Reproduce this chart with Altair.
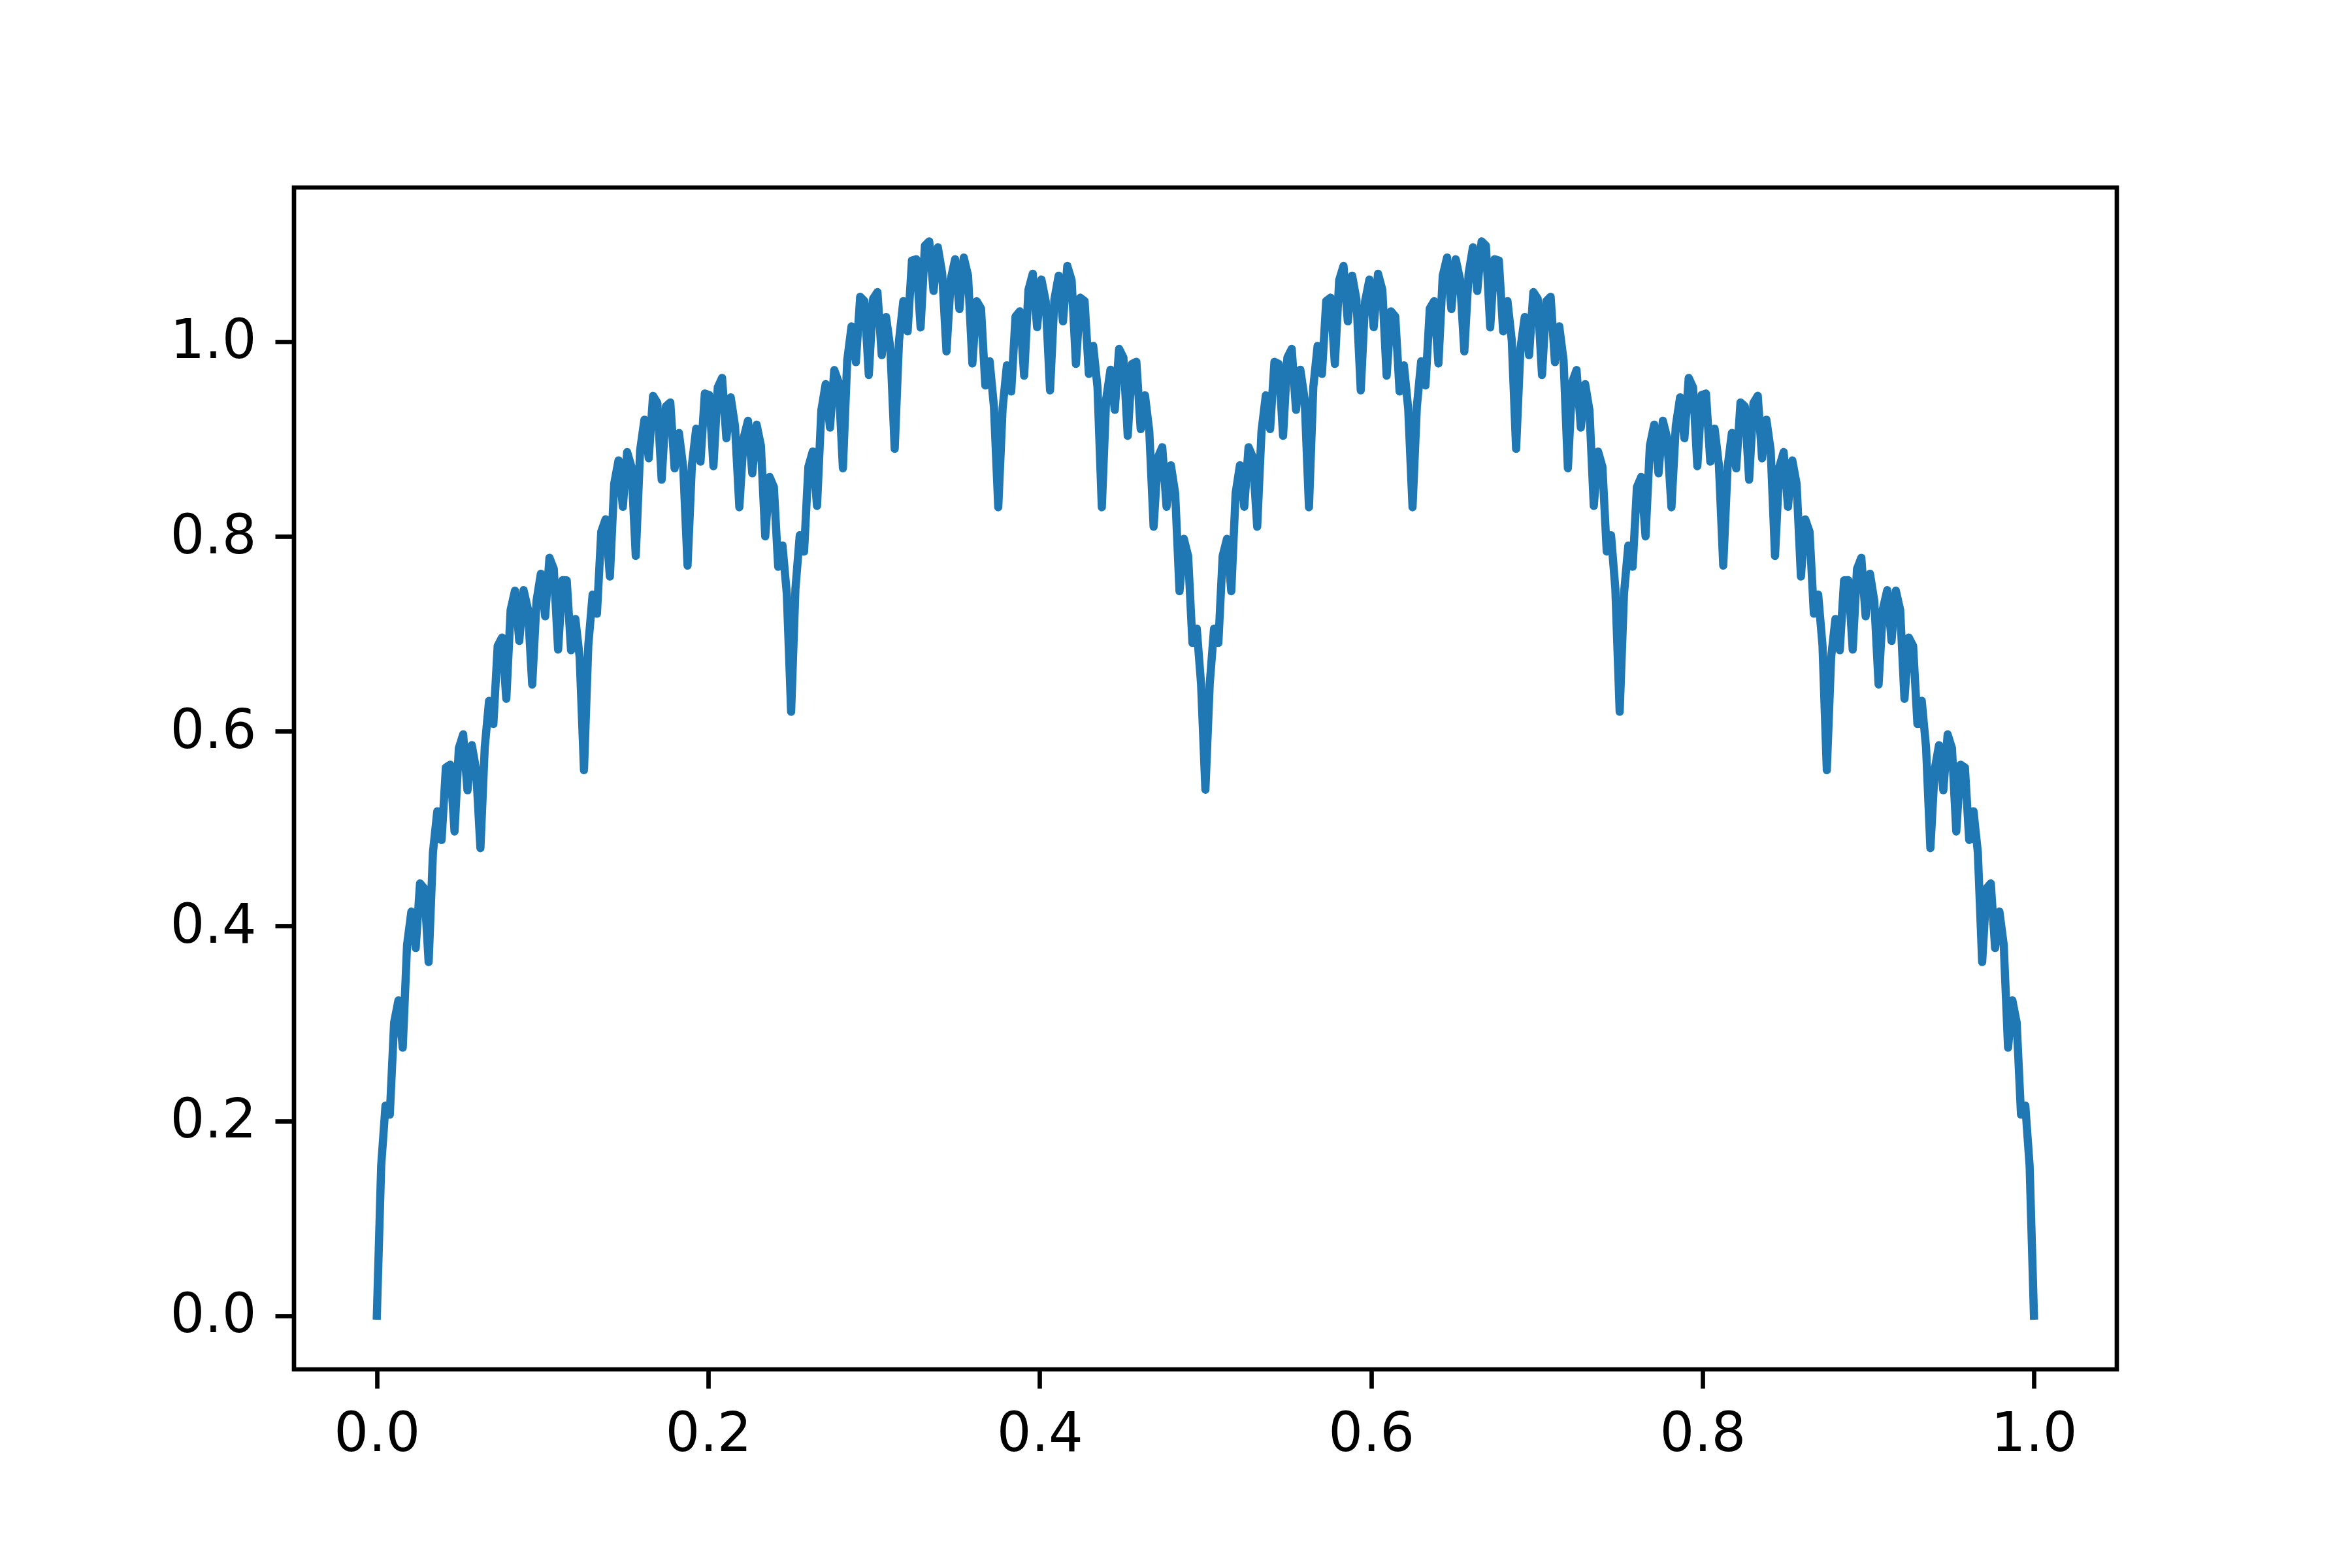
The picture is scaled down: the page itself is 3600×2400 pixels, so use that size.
import altair as alt
import pandas as pd

# sampled curve values, left to right (x runs 0..1 in equal steps)
y_values = [
    # left half, x = 0 .. 0.5
    0.0, 0.1536, 0.2157, 0.2064, 0.3008, 0.3237, 0.2751, 0.3807, 0.4148, 0.3774,
    0.4438, 0.4387, 0.363, 0.4757, 0.5178, 0.4884, 0.5628, 0.5657, 0.4971, 0.5827,
    0.5968, 0.5394, 0.5857, 0.5606, 0.48, 0.5833, 0.6312, 0.6075, 0.6876, 0.6962,
    0.6333, 0.7246, 0.7444, 0.6928, 0.7449, 0.7255, 0.648, 0.7339, 0.7617, 0.718,
    0.7781, 0.7667, 0.6838, 0.7551, 0.7549, 0.6832, 0.7153, 0.6759, 0.56, 0.6884,
    0.7403, 0.7207, 0.8049, 0.8176, 0.7588, 0.8542, 0.8781, 0.8305, 0.8867, 0.8714,
    0.78, 0.888, 0.9199, 0.8803, 0.9444, 0.9371, 0.8583, 0.9337, 0.9376, 0.87,
    0.9062, 0.8708, 0.77, 0.8731, 0.9107, 0.8769, 0.9468, 0.9452, 0.8721, 0.9532,
    0.9628, 0.9009, 0.9428, 0.9132, 0.83, 0.9012, 0.9188, 0.8649, 0.9148, 0.8932,
    0.8001, 0.8612, 0.8508, 0.7689, 0.7907, 0.7411, 0.62, 0.7463, 0.8012, 0.7845,
    0.8716, 0.8872, 0.8313, 0.9296, 0.9564, 0.9118, 0.9709, 0.9585, 0.87, 0.9809,
    1.0157, 0.979, 1.0461, 1.0417, 0.9658, 1.0441, 1.0509, 0.9862, 1.0253, 0.9929,
    0.89, 1.001, 1.0416, 1.0106, 1.0834, 1.0847, 1.0146, 1.0986, 1.103, 1.0521,
    1.0969, 1.0702, 0.99, 1.0641, 1.0846, 1.0336, 1.0864, 1.0678, 0.9776, 1.0416,
    1.0341, 0.9551, 0.9799, 0.9332, 0.83, 0.9311, 0.9757, 0.9489, 1.0258, 1.0312,
    0.9651, 1.0532, 1.0698, 1.0149, 1.0638, 1.0412, 0.95, 1.0432, 1.0678, 1.0209,
    1.0778, 1.0632, 0.9771, 1.0452, 1.0418, 0.9669, 0.9957, 0.9531, 0.83, 0.9408,
    0.9712, 0.93, 0.9926, 0.9837, 0.9033, 0.9771, 0.9794, 0.9103, 0.9449, 0.908,
    0.81, 0.8814, 0.8917, 0.8305, 0.8731, 0.8442, 0.7438, 0.7976, 0.7799, 0.6907,
    0.7053, 0.6484, 0.54,
    # right half, x = 0.5 .. 1
    0.6484, 0.7053,
    0.6907, 0.7799, 0.7976, 0.7438, 0.8442, 0.8731, 0.8305, 0.8917, 0.8814, 0.81,
    0.908, 0.9449, 0.9103, 0.9794, 0.9771, 0.9033, 0.9837, 0.9926, 0.93, 0.9712,
    0.9408, 0.83, 0.9531, 0.9957, 0.9669, 1.0418, 1.0452, 0.9771, 1.0632, 1.0778,
    1.0209, 1.0678, 1.0432, 0.95, 1.0412, 1.0638, 1.0149, 1.0698, 1.0532, 0.9651,
    1.0312, 1.0258, 0.9489, 0.9757, 0.9311, 0.83, 0.9332, 0.9799, 0.9551, 1.0341,
    1.0416, 0.9776, 1.0678, 1.0864, 1.0336, 1.0846, 1.0641, 0.99, 1.0702, 1.0969,
    1.0521, 1.103, 1.0986, 1.0146, 1.0847, 1.0834, 1.0106, 1.0416, 1.001, 0.89,
    0.9929, 1.0253, 0.9862, 1.0509, 1.0441, 0.9658, 1.0417, 1.0461, 0.979, 1.0157,
    0.9809, 0.87, 0.9585, 0.9709, 0.9118, 0.9564, 0.9296, 0.8313, 0.8872, 0.8716,
    0.7845, 0.8012, 0.7463, 0.62, 0.7411, 0.7907, 0.7689, 0.8508, 0.8612, 0.8001,
    0.8932, 0.9148, 0.8649, 0.9188, 0.9012, 0.83, 0.9132, 0.9428, 0.9009, 0.9628,
    0.9532, 0.8721, 0.9452, 0.9468, 0.8769, 0.9107, 0.8731, 0.77, 0.8708, 0.9062,
    0.87, 0.9376, 0.9337, 0.8583, 0.9371, 0.9444, 0.8803, 0.9199, 0.888, 0.78,
    0.8714, 0.8867, 0.8305, 0.8781, 0.8542, 0.7588, 0.8176, 0.8049, 0.7207, 0.7403,
    0.6884, 0.56, 0.6759, 0.7153, 0.6832, 0.7549, 0.7551, 0.6838, 0.7667, 0.7781,
    0.718, 0.7617, 0.7339, 0.648, 0.7255, 0.7449, 0.6928, 0.7444, 0.7246, 0.6333,
    0.6962, 0.6876, 0.6075, 0.6312, 0.5833, 0.48, 0.5606, 0.5857, 0.5394, 0.5968,
    0.5827, 0.4971, 0.5657, 0.5628, 0.4884, 0.5178, 0.4757, 0.363, 0.4387, 0.4438,
    0.3774, 0.4148, 0.3807, 0.2751, 0.3237, 0.3008, 0.2064, 0.2157, 0.1536, 0.0,
]
n_steps = len(y_values) - 1
x_values = [i / n_steps for i in range(len(y_values))]

x_ticks = [0.0, 0.2, 0.4, 0.6, 0.8, 1.0]
y_ticks = [0.0, 0.2, 0.4, 0.6, 0.8, 1.0]

df = pd.DataFrame({"x": x_values, "y": y_values})

FONT = "DejaVu Sans"
axis_common = dict(
    labelFont=FONT,
    labelFontSize=83,
    labelColor="black",
    tickSize=29,
    tickWidth=6.7,
    tickColor="black",
    domain=False,
    grid=False,
    labelPadding=29,
    format=".1f",
    title=None,
)

chart = (
    alt.Chart(df)
    .mark_line(color="#1f77b4", strokeWidth=12.5, strokeJoin="round", strokeCap="square")
    .encode(
        x=alt.X(
            "x:Q",
            scale=alt.Scale(domain=[-0.05, 1.05], nice=False, zero=False),
            axis=alt.Axis(values=x_ticks, labelBaseline="top", **axis_common),
        ),
        y=alt.Y(
            "y:Q",
            scale=alt.Scale(domain=[-0.0552, 1.1583], nice=False, zero=False),
            axis=alt.Axis(values=y_ticks, labelBaseline="middle", **axis_common),
        ),
    )
    .properties(
        width=2790,
        height=1809,
        autosize=alt.AutoSizeParams(type="none"),
        padding={"left": 442, "top": 279, "right": 352, "bottom": 296},
        background="white",
    )
    .configure_view(stroke="black", strokeWidth=6.7)
)

chart.save("out.html", embed_options={"renderer": "svg", "actions": False})
